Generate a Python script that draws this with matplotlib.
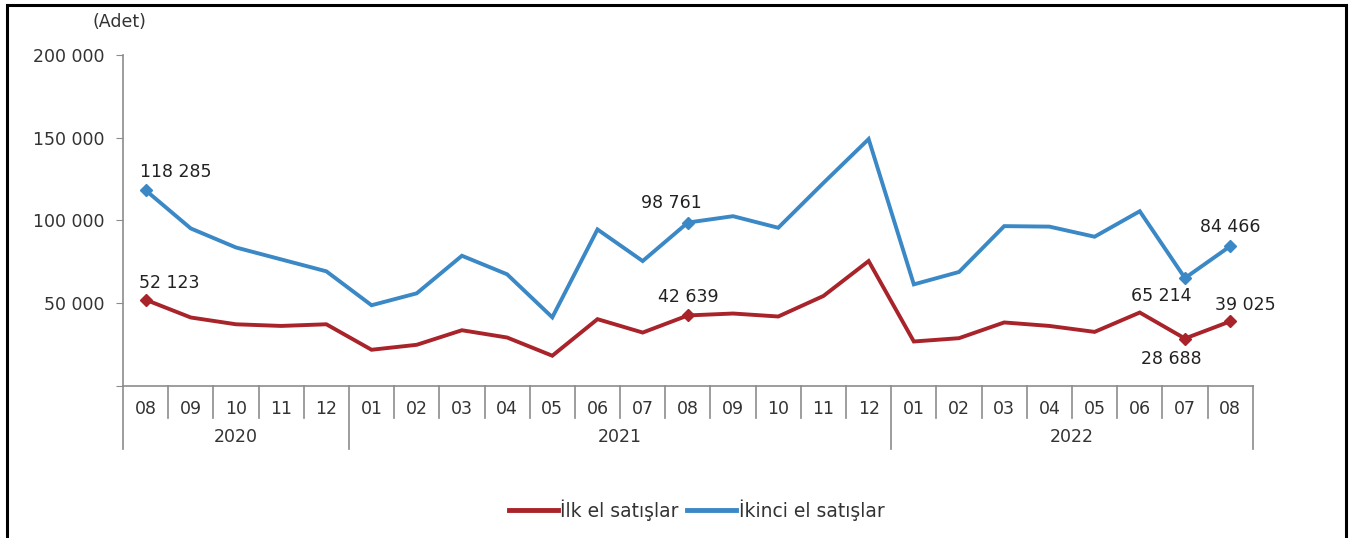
import matplotlib
matplotlib.use("Agg")
import matplotlib.pyplot as plt
from matplotlib.patches import Rectangle
from matplotlib.lines import Line2D

plt.rcParams['font.family'] = ['DejaVu Sans']

# monthly sales, 2020-08 .. 2022-08
months = ["08", "09", "10", "11", "12",
          "01", "02", "03", "04", "05", "06", "07", "08", "09", "10", "11", "12",
          "01", "02", "03", "04", "05", "06", "07", "08"]
years = ["2020", "2021", "2022"]
year_spans = [(0, 4), (5, 16), (17, 24)]

ilk_el = [52123, 41400, 37300, 36300, 37300,
          21900, 24900, 33700, 29300, 18300, 40400, 32300, 42639, 43800, 42000, 54400, 75500,
          26900, 28900, 38400, 36300, 32700, 44400, 28688, 39025]
ikinci_el = [118285, 95200, 83700, 76500, 69300,
             48800, 56000, 78700, 67500, 41500, 94600, 75500, 98761, 102600, 95600, 122700, 149200,
             61400, 68900, 96600, 96300, 90200, 105600, 65214, 84466]

# (index, offset in points) for the labelled points
red_labels = [(0, (17, 12)), (12, (0, 13)), (23, (-10, -15)), (24, (11, 12))]
blue_labels = [(0, (22, 13)), (12, (-12, 14)), (23, (-17, -13)), (24, (0, 14))]

RED = "#A8232A"
BLUE = "#3A88C5"
GRAY = "#8c8c8c"
TXT = "#333333"
FS = 12.5

fig = plt.figure(figsize=(13.53, 5.38), dpi=100)
ax = fig.add_axes([0.0909, 0.2825, 0.835, 0.6153])

x = list(range(len(months)))
ax.plot(x, ilk_el, color=RED, lw=2.8, solid_joinstyle='miter', zorder=3)
ax.plot(x, ikinci_el, color=BLUE, lw=2.8, solid_joinstyle='miter', zorder=3)

def fmt(v):
    return f"{v:,}".replace(",", " ")

for series, labels, col in ((ilk_el, red_labels, RED), (ikinci_el, blue_labels, BLUE)):
    for i, off in labels:
        ax.plot(i, series[i], marker='D', ms=6, color=col, zorder=4)
        ax.annotate(fmt(series[i]), (i, series[i]), xytext=off, textcoords='offset points',
                    ha='center', va='center', fontsize=FS, color="#222222")

ax.set_xlim(-0.5, len(months) - 0.5)
ax.set_ylim(0, 200000)
ax.set_yticks([0, 50000, 100000, 150000, 200000])
ax.set_yticklabels(["", "50 000", "100 000", "150 000", "200 000"])
ax.tick_params(axis='y', length=5, width=0.8, color=GRAY, labelcolor=TXT, labelsize=FS, pad=8)
ax.set_xticks([])
for s in ("top", "right"):
    ax.spines[s].set_visible(False)
for s in ("left", "bottom"):
    ax.spines[s].set_color(GRAY)
    ax.spines[s].set_linewidth(1.2)

ax.text(-0.003, 1.10, "(Adet)", transform=ax.transAxes, ha='center', va='center',
        fontsize=FS, color=TXT)

# two-level category axis
tr = ax.get_xaxis_transform()
for i, m in enumerate(months):
    ax.text(i, -0.07, m, transform=tr, ha='center', va='center', fontsize=FS, color=TXT)
year_edges = {-0.5, len(months) - 0.5} | {b + 0.5 for _, b in year_spans}
for k in range(len(months) + 1):
    xb = k - 0.5
    bottom = -0.19 if xb in year_edges else -0.097
    ax.add_line(Line2D([xb, xb], [0, bottom], transform=tr, color=GRAY, lw=1.2,
                       clip_on=False))
for yr, (a, b) in zip(years, year_spans):
    ax.text((a + b) / 2, -0.155, yr, transform=tr, ha='center', va='center',
            fontsize=FS, color=TXT)

handles = [Line2D([], [], color=RED, lw=3.5), Line2D([], [], color=BLUE, lw=3.5)]
fig.legend(handles, ["İlk el satışlar", "İkinci el satışlar"], loc='center',
           bbox_to_anchor=(0.515, 0.052), ncol=2, frameon=False, fontsize=13.5,
           handlelength=2.6, handletextpad=0.15, columnspacing=0.45,
           labelcolor=TXT)

# outer frame
fig.patches.append(Rectangle((7 / 1353, -0.05), 1339 / 1353, 1.05 - 5 / 538,
                             transform=fig.transFigure, fill=False, ec='black', lw=2.2))

fig.savefig("out.png", dpi=100, facecolor='white')
